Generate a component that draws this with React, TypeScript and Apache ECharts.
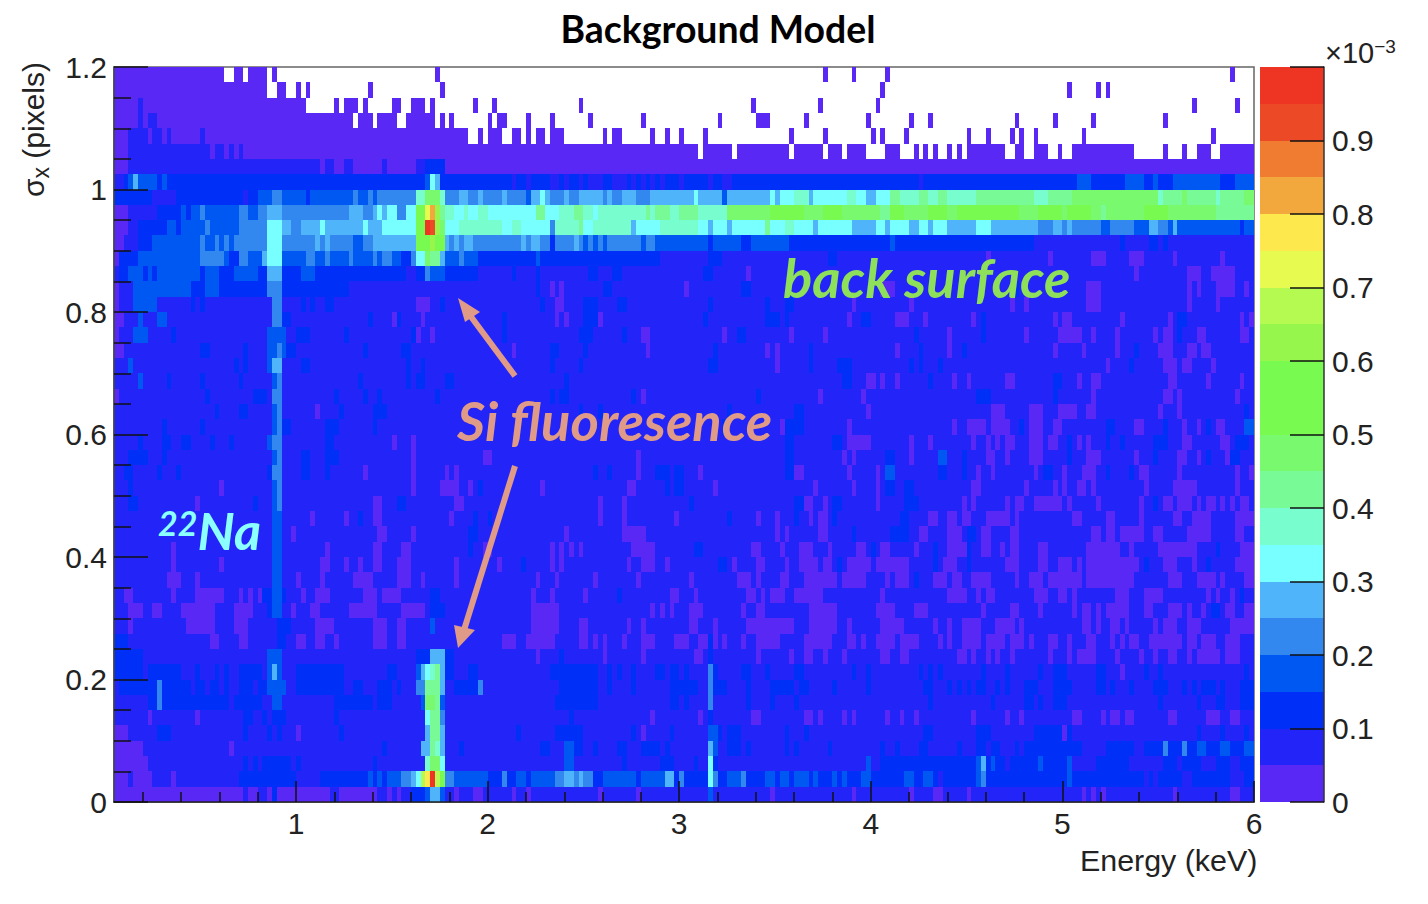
import React, { useEffect, useRef } from 'react';
import * as echarts from 'echarts';

// 能量轴: 238 个 bin, 每个 0.025 keV; 纵轴: 48 行, 每行 0.025 pixel
const energyMin = 0.05;
const energyMax = 6;
const binWidth = 0.025;
const binCount = 238;
const sigmaMax = 1.2;
const rowHeight = 0.025;

const energyMajorTicks = [1, 2, 3, 4, 5, 6];
const energyMinorTicks = [
  0.2, 0.4, 0.6, 0.8, 1.2, 1.4, 1.6, 1.8, 2.2, 2.4, 2.6, 2.8, 3.2, 3.4, 3.6, 3.8, 4.2, 4.4, 4.6, 4.8, 5.2, 5.4, 5.6, 5.8,
];

// colz 色标, 每 0.05e-3 一档
const levelColors = [
  '#5a28f5', '#2324f8', '#0030f8', '#0058f2', '#3388f0', '#50b4fa', '#78ffff', '#78fdcf', '#78fb96', '#78f96e',
  '#78fa50', '#78fa50', '#96f64c', '#b4fa50', '#e6fa50', '#fde94e', '#f2a83c', '#ef7c30', '#ec4a26', '#ee3423',
];
const colorbarLevels = levelColors.map((_, i) => i);

// 每行: 底色档位 + "档位=bin,bin-bin", 从最上一行(1.175-1.2)排到最下一行(0-0.025); -1 为空
const rowBins = [
  '-1 0=0-22,25-26,28-31,33,67,148,154,161,233',
  '-1 0=0-31,34-35,38,40,53,68,160,199,205,207',
  '-1 0=0-39,46,48-50,52,58-59,62-64,66,75,79,97,133,147,159,225,234 1=5',
  '-1 0=0-49,51-53,55-58,61-66,68,70,78,80-81,86,91,99,110,126,134-136,144,157,166,170,188,196,204,219 1=5,7-8',
  '-1 0=0-73,76,78-80,83-84,86,88-89,91-93,102,104-105,112,115,118,123,141,148,158,160,165,178,182,187,189,192,202,229 1=3-6,8-9,11,18',
  '0 -1=122,129,141,148,152,157-160,164-166,168,170,172-173,175,177,186-187,190-191,195-196,198-199,213-218,220-222,224-225,229-230 1=3-19,21-22,24,26',
  '0 1=3-42,44-45,48-49,56,63-64 2=65-68',
  '2 1=0-1,83,86,91-92,94,97,99-101,104-106,108,110,112,114,118,124,127-128,168 3=3,5-8,10,65,201-203,211-214,217,221-230,234-238 5=4,67 6=66',
  '2 1=8-12,27 3=30-32,35-39,41-49,51-52,54,86,127 4=33-34,50,53,55-62,69-71,74-75,77-80,82-85,91-93,95-96,102,104-105,109-111 5=72-73,76,81,87-88,90,94,97-101,103,106-108,112-120,122-126,128-136,138,145,157-158 6=89,121,137,139-141,146-152,155-156,159-161 7=63-64,68,142-144,153-154,164-167,170-171,174-179,192-194,218,230 8=162-163,168-169,172-173,180-191,195-199,219-222,224-229,231-235,238 9=65-67,200-217,223,236-237',
  '2 0=0-2 1=3-8 3=14,16-17,19-25,28-29 4=18,26-27,30-31,35-48,52-53,59-60 5=32-34,49-51,54,56 6=55,57-58,61-62,71-72,74-75,78-87,90-92,100 7=69-70,73,76-77,93-95,98-99,101-110,112,116-117,122-127 8=68,88-89,96-97,111,113-115,118-121,160-161,206,230-238 9=128-136,144-147,152-159,165-169,174-175,189-192,198,204-205,207-214,220-229 10=63-64,137-143,148-151,162-164,170-173,176-188,193-197,199-203,215-219 12=67 14=65 16=66',
  '2 0=0-2 1=3-4 3=11-12,14-18,20-25,206-207,213-215,220,222-238 4=19,26-31,37-38,91,193-195,198,200-205,208-212,218-219 5=35-36,39-42,44-51,53-55,108,124,128,146,154-158,161,166-167,170,174-179,183-192,196-197,199,216-217,221 6=32-34,43,52,56-62,69-71,81-82,85-90,98-99,109-113,122-123,125-127,129-135,137-139,142-145,147-153,159-160,162-165,168-169,171-173,180-182 7=72-80,83-84,92-96,100-107,114-121,140-141 8=97,136 9=68 10=63-64 12=67 18=66 19=65 2=235',
  '2 0=0-1 1=2-4,192-209,211-215,218,220-238 3=8-17,19-20,22,24,50-51,98,100,102,110,113-123,125-130,133-140,162 4=18,21,23,25-31,35-41,43,45-49,52-53,70,72,75-84,86,89-90,92-95,97,99,101,103-109,111-112 5=42,44,54-62,69,71,73-74,85,87-88,96 6=32-34 10=63-64,67-68 11=65 12=66',
  '1 0=0,182,195,204-206,212-214,221,231 2=1-4,24-25,60-61,76-113,124-126,149-150 3=5-17,23,28-30,35-39,42-43,45-48,50-53,55,58-59,69-71,73-75,88 4=18-22,26-27,40-41,44,49,54,56-57,62,72 5=31,68 6=32-34,63-64 8=66-67 9=65',
  '1 0=132,213,224-226,229-233 2=1-2,6,8,18,22-24,30-31,35-38,42-60,63-64,69-75,83,88,99-100,104-105,123-124 3=3-5,7,9-17,19-21,25-29,39-41,66-68 4=65 5=32-34',
  '1 0=0,91,93,119,162,160-161,203-205,224,226,230-233,236 2=16-18,22-31,35-48,88,102-103,131-132,188 3=4-15,19-21 4=32-34',
  '1 0=0,63-65,92-93,154,166,187,190,203-205,224,230 2=16,18,39,41,44-45,68,89,98-100,105-106,124,136,140-141 3=4-8 4=33-34',
  '1 0=0-1,58,64,92,94,101,153,163-165,169,179,196,198-199,210,220,235,237 2=35-36,53,59,81,98-100,123,136-138,140,156-157,181,222-223 3=5,9-10 4=33-34',
  '1 0=0,63,66,110-111,127,141,148,174,190,197-201,204,209,217,219-220,226-227,235-236 2=12,38-40,48,62,81,97-99,106,130-131,167,181,222 3=4-6,32-35',
  '1 0=0-1,83,111,136,138,163,174,196,202,209,218-220,224-225,227-228 2=18-19,27,36-37,52,60-61,91-92,98,125,145,168,177,213 3=32-33,35 4=34',
  '1 0=138,207,219-221,223-224,229 2=25,27,39-40,61,64,91,97,124-125,145,151-153,166,168,172,212 3=3,32 5=33-34',
  '1 0=157-158,160,163,175,178,186-187,201,204-205,220-221,228,235 2=11,18,26,51,61,63-64,69-70,94,152-153,170,196-197 3=5,33 4=34',
  '1 0=0,110,147,156,204,219-220,222,234 2=19,29-31,46,52,55,67,91,93-94,108,134,180-182,196 4=33-34',
  '1 0=42,157,183-185,191-193,197-200,203-204,218,222 2=21,26-27,47,54-56,97,101,128,142-143,236 3=33 4=34',
  '1 0=139,153,175,178-181,183-186,191-193,196-197,213-214,223,226,230-231 2=10,18,34-36,44-46,54,127,140-143,189,207-208,219,228 3=33,236-237 4=34',
  '1 0=58,62,153-157,166,170,179,182,184,186-187,191-193,195-196,201,203,223-224,231-232 2=5,10-11,14-15,20,24,44-45,140-141,150-151,199,207,210,217-219,234-236 3=32 4=33-34',
  '1 0=62,77-78,109,152,154,166,182-183,186,191-193,203-205,213,222-223,226,232 2=3-6,10,39-40,44-46,140-141,161-162,177,199,217,228,233-234 3=33,172-173 4=34',
  '1 0=52,62,69,71,109,122,142-143,153,159,180,183,192,198,202-204,214-215,222,234,237 2=2-3,9,13,32,39-40,44,100,103,113-115,117-118,140-141,172-173,177,194-195,207,212 3=161-162 4=33-34',
  '1 0=22,62,68-71,74,89,107-108,125,146,154,159,179-180,190,196,198,201-202,204,215,221-225,234 2=3,76,115,117-118,161-162,165-166 3=33 4=34',
  '1 0=17,54-55,71-72,101,106,144-145,148,159,177,179,186,188-189,192-197,199,205,214,219-220,222-224,226,228-229,231,233,235-236 2=3-4,29,59-60,120,142-143,150-151,165-167,217 3=33 4=34',
  '1 0=41,48,54-55,70,101,106,117,134,138,145,147-148,170-171,174-175,177-178,182-186,188,200-201,207-208,214,221-222,225-228,234-238 2=51,75,78,128,142,150,164-165 3=33-34',
  '1 0=37,55-56,62,94,106-110,138,140,147-148,168-169,174-176,181-182,187-188,204-205,207-208,210-214,217-218,224-228,234-235 2=74-75,154,162-165,178-179 3=33-34',
  '1 0=12,44,54-55,60-61,77-78,91,93,95,97,108-112,133-134,139,143-145,149,155-156,160-161,167,174-177,181-182,185,187-188,193-194,203-209,212,218-225,235-238 2=74,121-122,158,171,178,230 3=33-34',
  '1 0=12,22,43-44,48,51,54-55,59-61,71,80,91,93,107,110-112,115,129,134-135,140,143-146,148-149,153-157,159-165,173-175,186-188,193-194,197-199,201,203-213,219-221,225,234-238 2=85,126-127,151,171,178,215,228 3=33-34',
  '1 0=11-13,17,38,43,50-53,59-61,64,71,88,92,100,109,120,130-132,134,139-140,144-150,152-156,161,163-165,171-173,175-176,179-182,188,191-193,195-201,203-212,220-222,226-229,231,236-238 2=167 3=33-34',
  '1 0=2-3,12,17-22,26,28,30,39,42-44,52-54,56-59,87,91,98,116-117,121,132-133,135,137-139,142-147,160,174-177,180,182-183,192-194,197-198,200,209-211,215-218,228,230,233 2=31-32,35,66-67,105,235 3=33-34',
  '1 0=3-5,8-9,14-20,25-28,37,41-42,49-54,60-64,87-92,112,114,116,120-122,131,134-135,145-150,159-162,167-169,181,187-188,193,200,202-203,205,207-211,215-216,220-222,224,227,232-233,236-238 2=32,66-68,229-230 3=33-34',
  '1 0=3,15-20,25-27,42-45,54-56,59-60,87-92,97-98,107,110,120-121,125,132-141,145-150,153,160-164,171,174,177-180,184-187,189,202-203,205,208-209,211,217,219-221,224-226,233-238 2=34-36 3=66',
  '1 2=0-2,34-35,124 0=20-21,26-27,38-39,42-43,46,54-56,59-60,81-83,86-91,97-98,100,102,106,110-112,117-119,122-123,125,127,131,134-138,144-149,153-154,156,159-162,164-167,172,174,177-180,182-185,187-189,191,195-196,199,203-204,208,210,212-213,216-222,224-225,227-229,232-234',
  '1 0=88,102,110,121-122,134,141,144-145,148,152,160-161,164-165,176-177,179,182,184,187,195,199,201-204,209,214,217,220-221,224,226-230,232-234 2=0-5,63-65,69-70,93,124 3=32-34 5=66-68',
  '1 2=0-5,7-13,17,21,23,26-30,38-47,57-58,69-70,74-75,91-100,103,105,108,113-114,116-117,119,125,131-132,136,142-143,154,157,168,170,172,181,186,193,196-198,205-206,215,218,236 0=210 3=32,34,63 4=124 5=33,64,68 6=65 7=66 8=67',
  '1 2=1-8,10-15,17-18,20-21,23,26-28,30-31,38-47,50-51,55-57,59,71-75,93-100,103,108,116-121,125-127,132,137-141,143-144,150,157,169-170,174,176,178,180-181,184,186,190-192,196-199,205-206,208,212,217-219,223,225,227-229,231,235-238 3=32-35 4=9,63-64,76,124 5=68 8=65-67',
  '1 2=7-8,10-23,25-30,46-53,55-57,92-100,116-117,119,132,137,142,170,183,190-191,193,196-198,218,226,230-231,235-238 3=33-34,64,68 4=9,124 8=67 9=65-66',
  '1 0=7,17,112,122,133-134,144-145,147,152,154,161,164,167,179,186,189,200-201,206,208-209,211-212,220-221,228-230,233-234 2=27-28,31,33-35,46,95,124 4=68 6=65 8=66-67',
  '1 0=0-2,38,110,198 2=9-11,27,32,34,47,84,92-97,108,116,126,128-130,140,144,169-170,180-182,192-197,199,226,231,236 3=124-125 5=65,68 8=66-67',
  '1 0=0-5,24 2=56,72,89-90,96-97,100,105-106,110-113,115,128-130,132,140,142,149,160,163,168-169,176,180-181,183-184,188,190-201,207-212,215-218,220-222,224-225,228-230,233-235 3=94-95,125,226-227,231-232,236-238 4=219,223 5=64-65,68,124 7=67 8=66',
  '1 0=0-6 2=27,29,31-36,38,54,106,114-116,121,125,160-179,182,184-185,187-192,194-198,205-211,219-221,223-226,230-232,235-238 3=94-95,157,180,183,193,199 5=181 6=68,124 7=65 9=66-67',
  '2 0=0-2,4-7,12 1=3,8-11,13-25,38-42,172,215,217,223-224,233-235 3=53,55,57-59,71-77,84-85,87-91,102-108,110-114,128-130,136-137,139-140,142-144,146,150,152,156-157,165-166,169-170,180,199 4=60-61,69-70,81,92-93,96,98-99,118,125,131,181 5=62,94-95,97,115-116 6=63,124 11=68 13=64,67 15=65 19=66',
  '1 0=0-26,28-29,32,34-44,47-54,57,59,71,75-76,83,86,101,109,137,154,166,171-172,178,202,204,206,221,233-234 2=33,62-64 3=65,68,124 5=66-67',
];

const annotationOrange = '#e09a88';
const axisFont = '"Liberation Sans", Arial, sans-serif';
const noteFont = 'Lato, "Open Sans", sans-serif';

const parseRow = (text: string) => {
  const [base, ...groups] = text.split(' ');
  const cells = new Array(binCount).fill(Number(base));
  groups.forEach((group) => {
    const [level, spans] = group.split('=');
    spans.split(',').forEach((span) => {
      const [a, b = a] = span.split('-');
      for (let i = Number(a); i <= Number(b); i++) cells[i] = Number(level);
    });
  });
  return cells;
};

// 相邻同档的 bin 合并成一个矩形: [eLow, eHigh, sigmaLow, sigmaHigh, level]
const buildCells = () => {
  const out: number[][] = [];
  rowBins.forEach((text, idx) => {
    const cells = parseRow(text);
    const sigmaHigh = sigmaMax - idx * rowHeight;
    let start = 0;
    for (let i = 1; i <= binCount; i++) {
      if (i === binCount || cells[i] !== cells[start]) {
        if (cells[start] >= 0) {
          out.push([
            energyMin + start * binWidth,
            energyMin + i * binWidth,
            sigmaHigh - rowHeight,
            sigmaHigh,
            cells[start],
          ]);
        }
        start = i;
      }
    }
  });
  return out;
};

const renderBox = (_params: any, api: any) => {
  const a = api.coord([api.value(0), api.value(2)]);
  const b = api.coord([api.value(1), api.value(3)]);
  const x = Math.round(a[0]);
  const y = Math.round(b[1]);
  return {
    type: 'rect',
    shape: { x, y, width: Math.round(b[0]) - x, height: Math.round(a[1]) - y },
    style: { fill: levelColors[api.value(4)] },
  };
};

const App: React.FC = () => {
  const chartRef = useRef<HTMLDivElement>(null);

  useEffect(() => {
    if (!chartRef.current) return;
    const chart = echarts.init(chartRef.current, undefined, { renderer: 'svg' });

    const labelStyle = { fontFamily: axisFont, fontSize: 30, color: '#222' };
    const hiddenAxis = { show: false };

    chart.setOption({
      animation: false,
      backgroundColor: '#fff',
      title: {
        text: 'Background Model',
        left: 713,
        top: 5,
        textAlign: 'center',
        textStyle: { fontFamily: noteFont, fontWeight: 'bold', fontSize: 37.4, color: '#000' },
      },
      grid: [
        { left: 114, top: 67, width: 1140, height: 735, show: true, borderColor: '#666', borderWidth: 1.5, backgroundColor: '#fff' },
        { left: 1260, top: 67, width: 64, height: 735 },
      ],
      xAxis: [
        {
          type: 'value',
          gridIndex: 0,
          min: energyMin,
          max: energyMax,
          position: 'bottom',
          z: 5,
          splitLine: hiddenAxis,
          axisLine: { onZero: false, lineStyle: { color: '#222', width: 1.5 } },
          axisTick: { show: true, inside: true, length: 21, customValues: energyMajorTicks, lineStyle: { color: '#111', width: 1.5 } },
          axisLabel: { ...labelStyle, customValues: energyMajorTicks, margin: 6 },
        },
        {
          type: 'value',
          gridIndex: 0,
          min: energyMin,
          max: energyMax,
          position: 'bottom',
          z: 5,
          splitLine: hiddenAxis,
          axisLine: { show: false, onZero: false },
          axisTick: { show: true, inside: true, length: 10, customValues: energyMinorTicks, lineStyle: { color: '#111', width: 1.5 } },
          axisLabel: { show: false },
        },
        { type: 'value', gridIndex: 1, min: 0, max: 1, show: false },
      ],
      yAxis: [
        {
          type: 'value',
          gridIndex: 0,
          min: 0,
          max: sigmaMax,
          interval: 0.2,
          z: 5,
          splitLine: hiddenAxis,
          axisLine: { show: true, onZero: false, lineStyle: { color: '#444', width: 1.5 } },
          axisTick: { show: true, inside: true, length: 34, lineStyle: { color: '#111', width: 1.5 } },
          minorTick: { show: true, splitNumber: 4, length: 17, lineStyle: { color: '#111', width: 1.5 } },
          minorSplitLine: { show: false },
          axisLabel: { ...labelStyle, margin: 7 },
        },
        {
          type: 'value',
          gridIndex: 1,
          position: 'right',
          min: 0,
          max: 1,
          interval: 0.1,
          z: 5,
          splitLine: hiddenAxis,
          axisLine: { show: true, onZero: false, lineStyle: { color: '#333', width: 1.5 } },
          axisTick: { show: true, inside: true, length: 34, lineStyle: { color: '#111', width: 1.5 } },
          axisLabel: {
            ...labelStyle,
            margin: 8,
            formatter: (v: number) => (v >= 1 ? '' : String(Number(v.toFixed(1)))),
          },
        },
      ],
      series: [
        {
          type: 'custom',
          xAxisIndex: 0,
          yAxisIndex: 0,
          silent: true,
          clip: true,
          encode: { x: [0, 1], y: [2, 3] },
          data: buildCells(),
          renderItem: renderBox,
        },
        {
          type: 'custom',
          xAxisIndex: 2,
          yAxisIndex: 1,
          silent: true,
          encode: { x: [0, 1], y: [2, 3] },
          data: colorbarLevels.map((level) => [0, 1, level * 0.05, (level + 1) * 0.05, level]),
          renderItem: renderBox,
        },
      ],
      graphic: [
        { type: 'text', z: 20, x: 1080, y: 860, style: { text: 'Energy (keV)', font: `30.4px ${axisFont}`, fill: '#222', verticalAlign: 'middle' } },
        {
          type: 'text',
          z: 20,
          x: 33,
          y: 197,
          rotation: Math.PI / 2,
          style: {
            text: '{m|σ}{s|x}{m| (pixels)}',
            fill: '#222',
            verticalAlign: 'middle',
            rich: {
              m: { font: `30px ${axisFont}`, fill: '#222' },
              s: { font: `23px ${axisFont}`, fill: '#222', verticalAlign: 'bottom', padding: [16, 0, 0, 0] },
            },
          },
        },
        {
          type: 'text',
          z: 20,
          x: 1325,
          y: 37,
          style: {
            text: '{m|×10}{e|−3}',
            fill: '#222',
            rich: {
              m: { font: `29px ${axisFont}`, fill: '#222' },
              e: { font: `19px ${axisFont}`, fill: '#222', padding: [0, 0, 12, 0] },
            },
          },
        },
        { type: 'text', z: 20, x: 783, y: 277, style: { text: 'back surface', font: `italic bold 54.3px ${noteFont}`, fill: '#8ee05a', verticalAlign: 'middle' } },
        { type: 'text', z: 20, x: 457, y: 420, style: { text: 'Si fluoresence', font: `italic bold 54.3px ${noteFont}`, fill: annotationOrange, verticalAlign: 'middle' } },
        {
          type: 'text',
          z: 20,
          x: 158,
          y: 530,
          style: {
            text: '{e|22}{m|Na}',
            fill: '#8cffff',
            verticalAlign: 'middle',
            rich: {
              e: { font: `italic bold 34px ${noteFont}`, fill: '#8cffff', padding: [0, 0, 16, 0] },
              m: { font: `italic bold 52px ${noteFont}`, fill: '#8cffff' },
            },
          },
        },
        { type: 'line', z: 20, shape: { x1: 515, y1: 376, x2: 469, y2: 314 }, style: { stroke: annotationOrange, lineWidth: 6 } },
        { type: 'polygon', z: 20, shape: { points: [[458, 298], [480, 312], [465, 322]] }, style: { fill: annotationOrange } },
        { type: 'line', z: 20, shape: { x1: 515, y1: 466, x2: 464, y2: 630 }, style: { stroke: annotationOrange, lineWidth: 6 } },
        { type: 'polygon', z: 20, shape: { points: [[458, 648], [454, 625], [475, 630]] }, style: { fill: annotationOrange } },
      ],
    });

    return () => {
      chart.dispose();
    };
  }, []);

  return (
    <div
      ref={chartRef}
      style={{ position: 'absolute', left: 0, top: 0, width: 1428, height: 904, fontVariantLigatures: 'none' }}
    />
  );
};

export default App;
